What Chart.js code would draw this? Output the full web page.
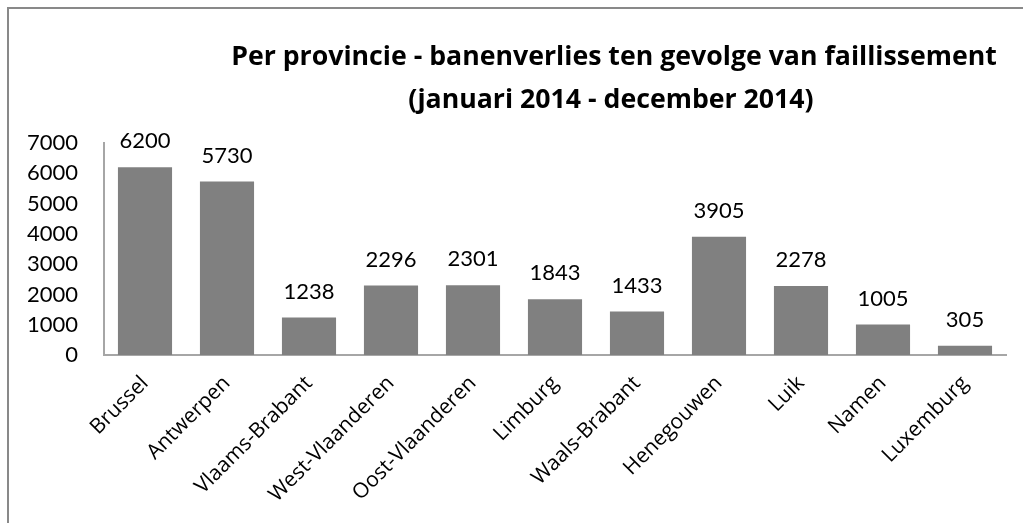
<!DOCTYPE html>
<html>
<head>
<meta charset="utf-8">
<script src="https://cdn.jsdelivr.net/npm/chart.js@4/dist/chart.umd.min.js"></script>
<style>
  html, body { margin: 0; padding: 0; background: #fff; overflow: hidden; }
  #wrap { position: relative; width: 1023px; height: 523px; }
  #frame { position: absolute; left: 7px; top: 7px; width: 1100px; height: 600px;
           border-left: 2px solid #898989; border-top: 2px solid #898989; }
  canvas { position: absolute; left: 0; top: 0; }
</style>
</head>
<body>
<div id="wrap">
  <div id="frame"></div>
  <canvas id="c" width="1023" height="523"></canvas>
</div>
<script>
const titleLines = ["Per provincie - banenverlies ten gevolge van faillissement", "(januari 2014 - december 2014)"];
const categories = ["Brussel", "Antwerpen", "Vlaams-Brabant", "West-Vlaanderen", "Oost-Vlaanderen", "Limburg", "Waals-Brabant", "Henegouwen", "Luik", "Namen", "Luxemburg"];
const values = [6200, 5730, 1238, 2296, 2301, 1843, 1433, 3905, 2278, 1005, 305];
const yTicks = [0, 1000, 2000, 3000, 4000, 5000, 6000, 7000];

const NUMFONT = "Lato, 'Open Sans', sans-serif";
const TXTFONT = "'Open Sans', Lato, sans-serif";

const titlePlugin = {
  id: 'customTitle',
  afterDraw(chart) {
    const ctx = chart.ctx;
    ctx.save();
    ctx.font = "bold 26.7px " + TXTFONT;
    ctx.fillStyle = "#000";
    ctx.textAlign = "center";
    ctx.textBaseline = "middle";
    ctx.fillText(titleLines[0], 614, 57);
    ctx.fillText(titleLines[1], 611, 100);
    ctx.restore();
  }
};

const valueLabels = {
  id: 'valueLabels',
  afterDatasetsDraw(chart) {
    const ctx = chart.ctx;
    const meta = chart.getDatasetMeta(0);
    ctx.save();
    ctx.font = "22px " + NUMFONT;
    ctx.fillStyle = "#000";
    ctx.textAlign = "center";
    ctx.textBaseline = "middle";
    meta.data.forEach((bar, i) => {
      ctx.fillText(String(values[i]), bar.x, bar.y - 26);
    });
    ctx.restore();
  }
};

new Chart(document.getElementById('c'), {
  type: 'bar',
  data: {
    labels: categories,
    datasets: [{
      data: values,
      backgroundColor: '#808080',
      borderWidth: 0,
      barPercentage: 0.66,
      categoryPercentage: 1.0
    }]
  },
  options: {
    responsive: false,
    animation: false,
    devicePixelRatio: 1,
    layout: { padding: { left: 0, right: 17, top: 143, bottom: 0 } },
    plugins: { legend: { display: false }, title: { display: false }, tooltip: { enabled: false } },
    scales: {
      x: {
        grid: { display: false, drawTicks: false },
        border: { display: true, color: '#a6a6a6', width: 2 },
        ticks: {
          color: '#000',
          font: { family: TXTFONT, size: 21 },
          minRotation: 45, maxRotation: 45,
          padding: 16,
          autoSkip: false
        },
        afterFit(scale) { scale.height = 168; }
      },
      y: {
        min: 0, max: 7000,
        afterBuildTicks(scale) { scale.ticks = yTicks.map(v => ({ value: v })); },
        grid: { display: false, drawTicks: false },
        border: { display: true, color: '#a6a6a6', width: 2 },
        ticks: {
          color: '#000',
          font: { family: NUMFONT, size: 22 },
          padding: 26,
          callback: (v) => String(v)
        },
        afterFit(scale) { scale.width = 104; }
      }
    }
  },
  plugins: [titlePlugin, valueLabels]
});
</script>
</body>
</html>
